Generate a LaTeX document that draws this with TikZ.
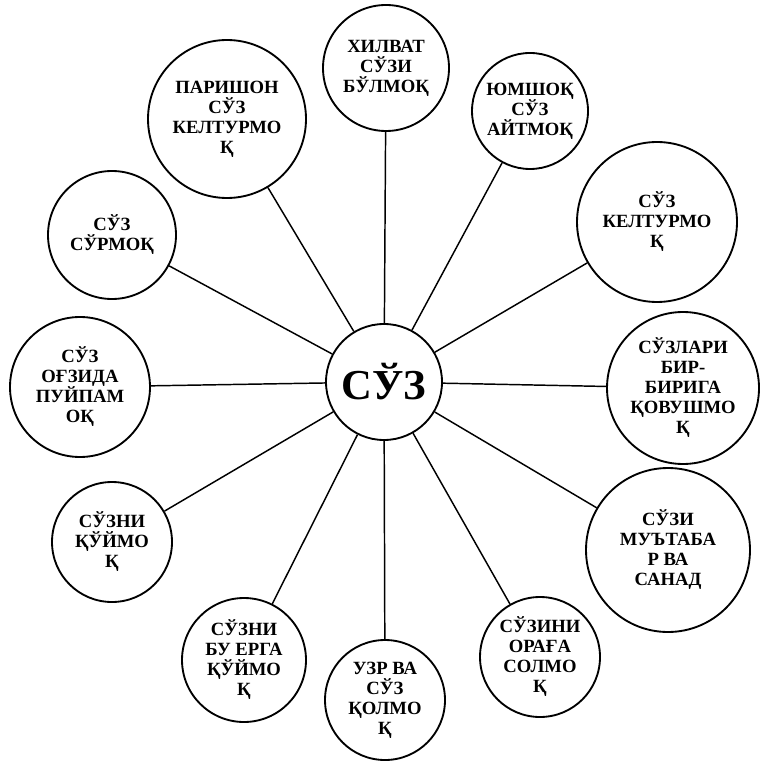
\documentclass[tikz,border=0pt]{standalone}
\usepackage{fontspec}
\setmainfont{Liberation Serif}
\usetikzlibrary{positioning}
\tikzset{
  hub/.style={circle,draw,line width=1.4pt,minimum size=87pt,inner sep=0pt,
    font=\bfseries\fontsize{32}{34}\selectfont},
  leaf/.style={circle,draw,line width=1.4pt,inner sep=0pt,align=center,
    font=\bfseries\fontsize{14}{15}\selectfont},
  spoke/.style={line width=1.1pt}
}

\begin{document}
\begin{tikzpicture}[x=0.75pt,y=-0.75pt]
  \useasboundingbox (0,0) rectangle (760,762);
  \node[hub] (suz) at (384,382) {СЎЗ};
  \node[leaf,minimum size=94.5pt] (hilvat) at (386,68) {ХИЛВАТ\\СЎЗИ\\БЎЛМОҚ};
  \node[leaf,minimum size=87pt] (yumshoq) at (530,111) {ЮМШОҚ\\СЎЗ\\АЙТМОҚ};
  \node[leaf,minimum size=120pt] (keltur) at (657,222) {СЎЗ\\КЕЛТУРМО\\Қ};
  \node[leaf,minimum size=114pt] (qovush) at (683,388) {СЎЗЛАРИ\\БИР-\\БИРИГА\\ҚОВУШМО\\Қ};
  \node[leaf,minimum size=123pt] (mutabar) at (668,550) {СЎЗИ\\МУЪТАБА\\Р ВА\\САНАД};
  \node[leaf,minimum size=90pt] (oraga) at (540,657) {СЎЗИНИ\\ОРАҒА\\СОЛМО\\Қ};
  \node[leaf,minimum size=90pt] (uzr) at (385,700) {УЗР ВА\\СЎЗ\\ҚОЛМО\\Қ};
  \node[leaf,minimum size=93pt] (buerga) at (244,660) {СЎЗНИ\\БУ ЕРГА\\ҚЎЙМО\\Қ};
  \node[leaf,minimum size=90pt] (quymoq) at (112,542) {СЎЗНИ\\ҚЎЙМО\\Қ};
  \node[leaf,minimum size=105pt] (ogzida) at (80,387) {СЎЗ\\ОҒЗИДА\\ПУЙПАМ\\ОҚ};
  \node[leaf,minimum size=96pt] (surmoq) at (112,235) {СЎЗ\\СЎРМОҚ};
  \node[leaf,minimum size=118.5pt] (parishon) at (227,119) {ПАРИШОН\\СЎЗ\\КЕЛТУРМО\\Қ};
  % spokes from the hub
  \foreach \n in {hilvat,yumshoq,keltur,qovush,mutabar,oraga,uzr,buerga,quymoq,ogzida,surmoq,parishon}
    \draw[spoke] (suz) -- (\n);
\end{tikzpicture}
\end{document}
